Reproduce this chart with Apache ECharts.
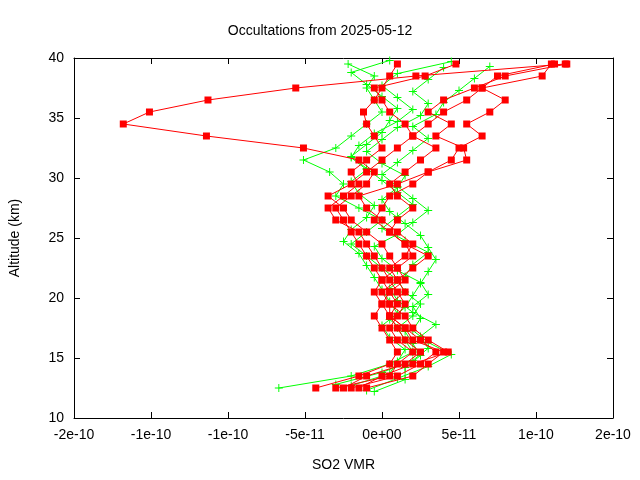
<!DOCTYPE html>
<html><head><meta charset="utf-8">
<script src="https://cdn.jsdelivr.net/npm/echarts@6/dist/echarts.min.js"></script>
<style>html,body{margin:0;background:#fff}#c{width:640px;height:480px}</style>
</head><body><div id="c"></div>
<script>
// VMR values in units of 1e-11, altitudes in km
const ALTITUDES = [12.5,13.5,14.5,15.5,16.5,17.5,18.5,19.5,20.5,21.5,22.5,23.5,24.5,25.5,26.5,27.5,28.5,29.5,30.5,31.5,32.5,33.5,34.5,35.5,36.5,37.5,38.5,39.5];
const X_TICK_LABELS = ['-2e-10','-1e-10','-1e-10','-5e-11','0e+00','5e-11','1e-10','2e-10'];

const RED_PROFILES = [
  [-4.3,-1.5,0.5,1,0.5,0,-0.5,0,0.5,0,-0.5,-1,-1.5,-2,-2.5,-3,-2,-1,-0.5,-1.5,-5.1,-11.4,-16.8,-15.1,-11.3,-5.6,2.2,11.9],
  [-2.5,-1,1.5,2.5,1.5,1,0.5,1,0.5,1.5,1,0.5,0,-1,-2,-2.5,-3.5,-2,-1,0,1,2,1.5,0.5,0,-0.5,2.8,4.8],
  [-1.5,0,2,4.3,3,2,1.5,0.5,1.5,1,0.5,1.5,2,1,0,-1,-1.5,1,3,5.5,5.3,3.5,4.5,3,4,6,8,12],
  [-2,1,2.5,3.5,2.5,1.5,0.5,0,-0.5,0,1,2,1.5,0.5,-0.5,0,0.5,2,3,4.5,5,6.5,5.5,7,8,6.5,10.4,11],
  [-3,0.5,1,2,1,0.5,1,1.5,1,0.5,0,-0.5,-1,-1.5,-3,-3.5,-2.5,-1.5,-2,-1,0,-0.5,-1,-1.2,-0.5,0,0.5,1],
  [-1,2,3,4,2,1.5,0.5,0.5,0,1,2,3,1.5,0.5,1,2,1,0.5,1.5,2.5,3.5,2,3,4,5.5,6.5,7.5,11.2]
];
const GREEN_PROFILES = [
  [-6.7,-2,0.5,2,1.5,1,2,2.5,1.5,1,0,-1,-2,-1,0,-1.5,-3,-2.5,-3.4,-5.1,-3,-2,-1,0,-0.5,-1,-0.5,-2.2],
  [-3,0,2,3,2.5,3.5,2,1,0.5,1.5,2,3,1.5,0,1,2,1,0,-1,-2,-1,0,0.5,1,0,-1,-2,0.5],
  [-1,1,3,4.5,3,2,2.5,2,3,2.5,1,0,-0.5,1,2,3,2,1,0,1,2,3,2,3.5,4,5,6,7],
  [-2,0.5,1,1.5,0.5,0,1,0.5,0,-0.5,-1,-1.5,-2.5,-2,-1,-0.5,-1.5,-2,-1,-2,-1.5,-0.5,1,2,1,0,1,4.5],
  [-0.5,1.5,1.5,2.5,2,1.5,0.5,1.5,2,2.5,3,3.5,3,2.5,1.5,0.5,0,1,1.5,0,-1,0,1,2.5,3,2,3,4]
];
const GREEN_ALT_SHIFT = [0, 0.3, -0.2, 0.2, -0.3];

const PLUS = 'path://M4.4,0h1.2v4.4h4.4v1.2h-4.4v4.4h-1.2v-4.4h-4.4v-1.2h4.4z';
const FONT = 'Liberation Sans';

const series = [];
GREEN_PROFILES.forEach((p, i) => series.push({
  type: 'line', data: p.map((v, k) => [v, ALTITUDES[k] + GREEN_ALT_SHIFT[i]]),
  symbol: PLUS, symbolSize: 8, showSymbol: true,
  lineStyle: { color: '#00ff00', width: 1 }, itemStyle: { color: '#00ff00' }, z: 2
}));
RED_PROFILES.forEach(p => series.push({
  type: 'line', data: p.map((v, k) => [v, ALTITUDES[k]]),
  symbol: 'rect', symbolSize: 7,
  lineStyle: { color: '#ff0000', width: 1 }, itemStyle: { color: '#ff0000' }, z: 3
}));

const axisCommon = {
  axisLine: { show: true, onZero: false, lineStyle: { color: '#000', width: 1 } },
  axisTick: { show: true, inside: true, length: 6, lineStyle: { color: '#000' } },
  splitLine: { show: false }
};
const chart = echarts.init(document.getElementById('c'));
chart.setOption({
  animation: false,
  title: { text: 'Occultations from 2025-05-12', left: 'center', top: 19,
    textStyle: { fontFamily: FONT, fontSize: 14, fontWeight: 'normal', color: '#000' } },
  grid: { left: 74, right: 27, top: 58, bottom: 62 },
  xAxis: [
    Object.assign({ type: 'value', min: -20, max: 15, interval: 5, position: 'bottom',
      name: 'SO2 VMR', nameLocation: 'middle', nameGap: 40,
      nameTextStyle: { fontFamily: FONT, fontSize: 14, color: '#000' },
      axisLabel: { margin: 10, fontFamily: FONT, fontSize: 14, color: '#000',
        formatter: v => X_TICK_LABELS[Math.round((v + 20) / 5)] } }, axisCommon),
    Object.assign({ type: 'value', min: -20, max: 15, interval: 5, position: 'top',
      axisLabel: { show: false } }, axisCommon)
  ],
  yAxis: [
    Object.assign({ type: 'value', min: 10, max: 40, interval: 5, position: 'left',
      name: 'Altitude (km)', nameLocation: 'middle', nameGap: 52, nameRotate: 90,
      nameTextStyle: { fontFamily: FONT, fontSize: 14, color: '#000' },
      axisLabel: { margin: 10, fontFamily: FONT, fontSize: 14, color: '#000' } }, axisCommon),
    Object.assign({ type: 'value', min: 10, max: 40, interval: 5, position: 'right',
      axisLabel: { show: false } }, axisCommon)
  ],
  series
});
</script></body></html>
